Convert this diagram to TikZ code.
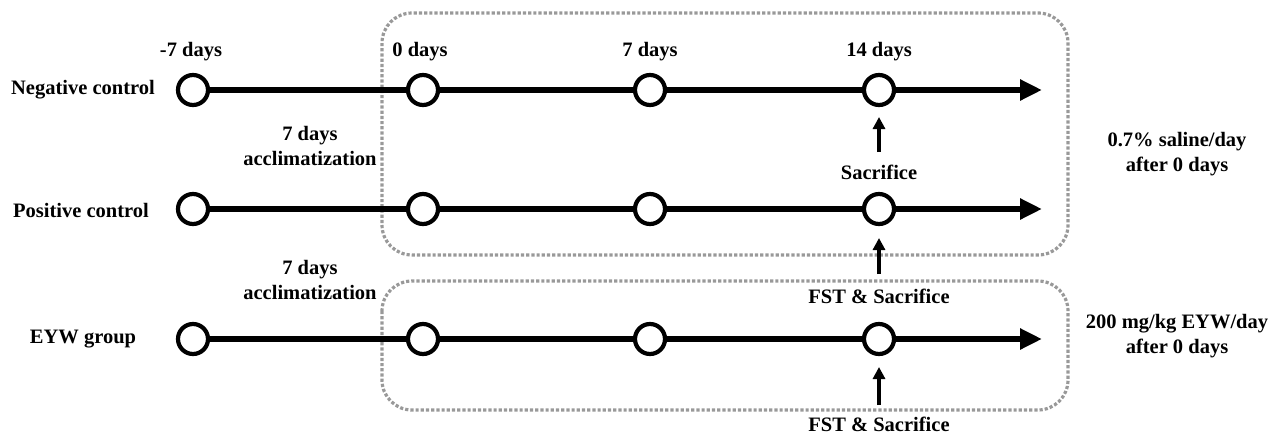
\documentclass[tikz,border=0pt]{standalone}
\usepackage{fontspec}
\setmainfont{Liberation Serif}
\usetikzlibrary{arrows.meta}
\begin{document}
\begin{tikzpicture}[x=1pt,y=-1pt,
  lbl/.style={font=\fontsize{20.5}{25}\selectfont\bfseries, align=center, inner sep=0pt},
  dot/.style={circle, draw, line width=4.2pt, fill=white, minimum size=30pt, inner sep=0pt},
  tline/.style={line width=5.5pt},
  tarrow/.style={line width=5.5pt, -{Triangle[length=22pt,width=20pt]}},
  uparrow/.style={line width=3.4pt, -{Triangle[length=12pt,width=12pt]}},
  grpbox/.style={draw=gray!80, line width=3.2pt, dotted, rounded corners=30pt}]
\useasboundingbox (0,0) rectangle (1270,434);
% boxes
\draw[grpbox] (382,13) rectangle (1068,255);
\draw[grpbox] (382,281) rectangle (1068,410);
% day labels
\node[lbl] (lm7) at (191,52) {-7 days};
\node[lbl] (l0) at (420,52) {0 days};
\node[lbl] (l7) at (650,52) {7 days};
\node[lbl] (l14) at (879,52) {14 days};
% group labels
\node[lbl] (gn) at (83,90) {Negative control};
\node[lbl] (gp) at (81,210) {Positive control};
\node[lbl] (ge) at (83,339) {EYW group};
% acclimatization
\node[lbl] (acc1) at (310,146) {7 days\\acclimatization};
\node[lbl] (acc2) at (310,280) {7 days\\acclimatization};
% right texts
\node[lbl] (r1) at (1177,154) {0.7\% saline/day\\after 0 days};
\node[lbl] (r2) at (1177,336) {200 mg/kg EYW/day\\after 0 days};
% timelines
\foreach \r/\y in {n/90, p/209, e/339}{
  \node[dot] (\r a) at (193,\y) {};
  \node[dot] (\r b) at (423,\y) {};
  \node[dot] (\r c) at (650,\y) {};
  \node[dot] (\r d) at (879,\y) {};
  \coordinate (\r z) at (1042,\y);
  \draw[tline] (\r a) -- (\r b);
  \draw[tline] (\r b) -- (\r c);
  \draw[tline] (\r c) -- (\r d);
  \draw[tarrow] (\r d) -- (\r z);
}
% event labels and arrows
\node[lbl] (s1) at (879,172) {Sacrifice};
\node[lbl] (s2) at (879,296) {FST \& Sacrifice};
\node[lbl] (s3) at (879,424) {FST \& Sacrifice};
\coordinate (t1) at (879,117);
\coordinate (t2) at (879,238);
\coordinate (t3) at (879,367);
\coordinate (b1) at (879,152);
\coordinate (b2) at (879,274);
\coordinate (b3) at (879,405);
\draw[uparrow] (b1) -- (t1);
\draw[uparrow] (b2) -- (t2);
\draw[uparrow] (b3) -- (t3);
\end{tikzpicture}
\end{document}
